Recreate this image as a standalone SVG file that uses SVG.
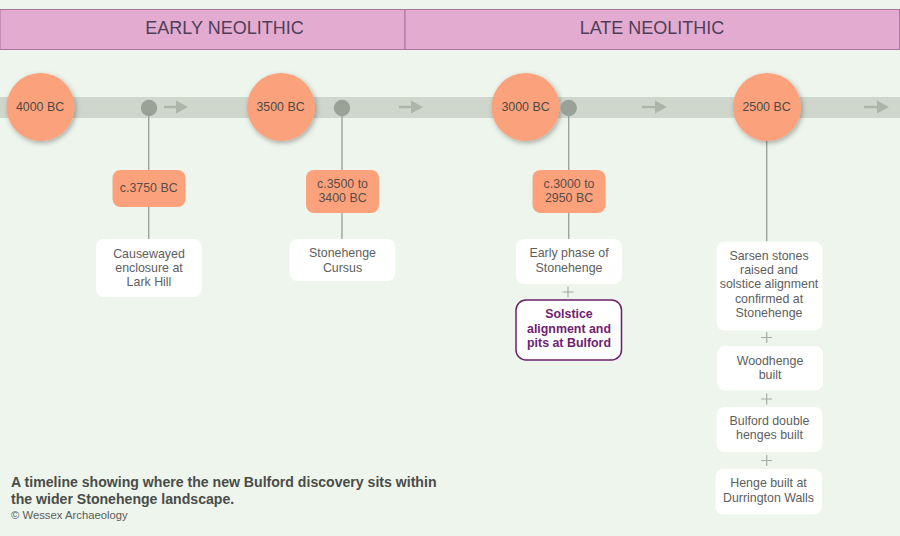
<svg xmlns="http://www.w3.org/2000/svg" width="900" height="536" viewBox="0 0 900 536">
<defs>
<filter id="sh" x="-30%" y="-30%" width="160%" height="160%"><feDropShadow dx="1.5" dy="2" stdDeviation="2.5" flood-color="#000" flood-opacity="0.3"/></filter>
<filter id="sh2" x="-20%" y="-20%" width="140%" height="140%"><feDropShadow dx="0" dy="0" stdDeviation="1.5" flood-color="#fff" flood-opacity="0.25"/></filter>
</defs>
<style>
text{font-family:"Liberation Sans",Arial,sans-serif;text-anchor:middle}
.band{fill:#e4abd0;stroke:#a8749f;stroke-width:1}
.bt{font-size:18px;fill:#4f3f58}
.big{fill:#fba27c;filter:url(#sh)}
.bl{font-size:12.4px;fill:#4d4a46}
.dot{fill:#98a297}
.date{fill:#fba27c}
.dl{font-size:12.4px;fill:#5a4c48}
.box{fill:#fff}
.t{font-size:12.4px;fill:#5e5e5e}
.c{stroke:#9ba59a;stroke-width:1.4;fill:none}
.p{stroke:#a3b0a2;stroke-width:1.2;fill:none}
.a{stroke:#abb5a8;stroke-width:2.4;fill:none}
.ah{fill:#abb5a8}
</style>
<rect width="900" height="536" fill="#edf5ec"/>
<g id="track"><rect x="0" y="97" width="900" height="21" fill="#cfd6cc"/></g>
<g id="connectors">
<path class="c" d="M148.700 116V170M148.700 207V239"/>
<path class="c" d="M342 116V170M342 213V239"/>
<path class="c" d="M568.700 116V170M568.700 213V239"/>
<path class="c" d="M766.700 140V241"/>
<path class="p" d="M568 286.500V297.500M562.500 292H573.500"/>
<path class="p" d="M766.700 332V343M761 337.500H772"/>
<path class="p" d="M766.700 393.500V404.500M761 399H772"/>
<path class="p" d="M766.700 455V466M761 460.500H772"/>
<g id="arrows">
<path class="a" d="M164 107H178"/><path class="ah" d="M176 100.500L188 107L176 113.500Z"/>
<path class="a" d="M399 107H413"/><path class="ah" d="M411 100.500L423 107L411 113.500Z"/>
<path class="a" d="M642 107H656"/><path class="ah" d="M655 100.500L667 107L655 113.500Z"/>
<path class="a" d="M864 107H878"/><path class="ah" d="M877 100.500L889 107L877 113.500Z"/>
</g>
</g>
<g id="early"><rect class="band" x="0" y="9.500" width="405" height="40"/><text class="bt" x="224.500" y="34">EARLY NEOLITHIC</text></g>
<g id="late"><rect class="band" x="405" y="9.500" width="494.500" height="40"/><text class="bt" x="652" y="34">LATE NEOLITHIC</text></g>
<g id="y4000"><circle class="big" cx="40.500" cy="107" r="34"/><text class="bl" x="40" y="110.500">4000 BC</text></g>
<g id="y3500"><circle class="big" cx="281" cy="107" r="34"/><text class="bl" x="280.500" y="110.500">3500 BC</text></g>
<g id="y3000"><circle class="big" cx="525.500" cy="107" r="34"/><text class="bl" x="525.500" y="110.500">3000 BC</text></g>
<g id="y2500"><circle class="big" cx="767" cy="107" r="34"/><text class="bl" x="766.500" y="110.500">2500 BC</text></g>
<g id="dot1"><circle class="dot" cx="149" cy="108" r="8.200"/></g>
<g id="dot2"><circle class="dot" cx="342" cy="108" r="8.200"/></g>
<g id="dot3"><circle class="dot" cx="568.700" cy="108" r="8.200"/></g>
<g id="d3750"><rect class="date" x="112.500" y="170" width="73" height="37" rx="8"/><text class="dl" x="148.700" y="192">c.3750 BC</text></g>
<g id="d3500"><rect class="date" x="306" y="170" width="73" height="43" rx="8"/><text class="dl" x="342.500" y="187.500">c.3500 to</text><text class="dl" x="342.500" y="202">3400 BC</text></g>
<g id="d3000"><rect class="date" x="532.500" y="170" width="73" height="43" rx="8"/><text class="dl" x="569" y="187.500">c.3000 to</text><text class="dl" x="569" y="202">2950 BC</text></g>
<g id="lark"><rect class="box" x="96" y="239" width="106" height="58" rx="8"/><text class="t" x="149" y="257.500">Causewayed</text><text class="t" x="149" y="272">enclosure at</text><text class="t" x="149" y="286">Lark Hill</text></g>
<g id="cursus"><rect class="box" x="289.500" y="239" width="106" height="42" rx="8"/><text class="t" x="342.500" y="257">Stonehenge</text><text class="t" x="342.500" y="271.500">Cursus</text></g>
<g id="early-phase"><rect class="box" x="516" y="239" width="106" height="45" rx="8"/><text class="t" x="569" y="257">Early phase of</text><text class="t" x="569" y="271.500">Stonehenge</text></g>
<g id="solstice"><rect x="516" y="300" width="105.500" height="60" rx="10" fill="#fff" stroke="#6b1f6c" stroke-width="1.5"/><text x="569" y="318" font-size="12.4" font-weight="700" fill="#6f2270">Solstice</text><text x="569" y="333" font-size="12.4" font-weight="700" fill="#6f2270">alignment and</text><text x="569" y="347" font-size="12.400" font-weight="700" fill="#6f2270">pits at Bulford</text></g>
<g id="sarsen"><rect class="box" x="716.500" y="241.500" width="106" height="89" rx="8"/><text class="t" x="769" y="259.500">Sarsen stones</text><text class="t" x="769" y="273.500">raised and</text><text class="t" x="769" y="288">solstice alignment</text><text class="t" x="769" y="302.500">confirmed at</text><text class="t" x="769" y="316.500">Stonehenge</text></g>
<g id="woodhenge"><rect class="box" x="717" y="346" width="106" height="44.500" rx="8"/><text class="t" x="770" y="365">Woodhenge</text><text class="t" x="770" y="379">built</text></g>
<g id="double"><rect class="box" x="716.500" y="407" width="106" height="45" rx="8"/><text class="t" x="769.500" y="424.500">Bulford double</text><text class="t" x="769.500" y="439">henges built</text></g>
<g id="durrington"><rect class="box" x="715.500" y="469" width="106.500" height="45.500" rx="8"/><text class="t" x="768.500" y="487">Henge built at</text><text class="t" x="768.500" y="501.500">Durrington Walls</text></g>
<g id="caption">
<text x="11" y="487" font-size="14.100" font-weight="700" fill="#4a4c4a" style="text-anchor:start">A timeline showing where the new Bulford discovery sits within</text>
<text x="11" y="504" font-size="14.100" font-weight="700" fill="#4a4c4a" style="text-anchor:start">the wider Stonehenge landscape.</text>
<text x="11" y="518.500" font-size="11.300" fill="#5a5c5a" style="text-anchor:start">© Wessex Archaeology</text>
</g>
</svg>
